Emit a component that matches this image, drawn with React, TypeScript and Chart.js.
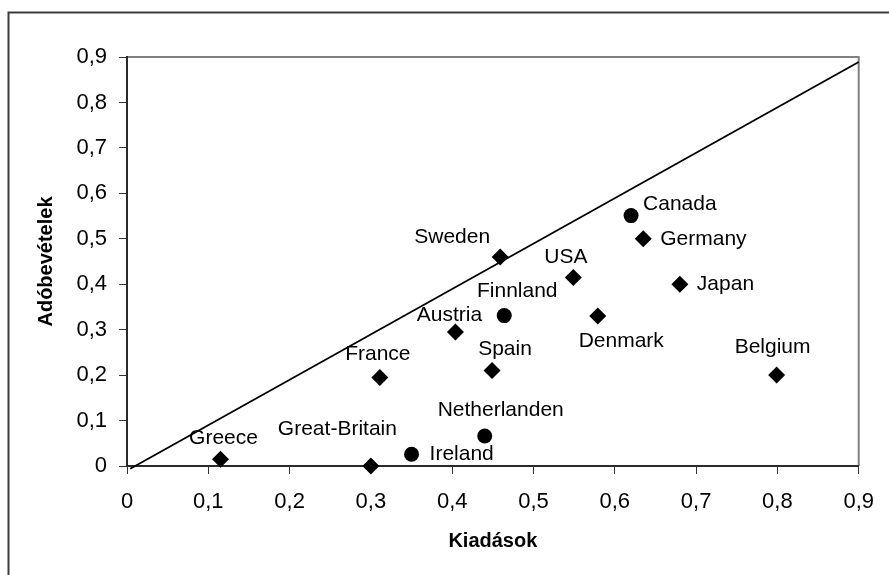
import React, { useEffect, useRef } from 'react';
import { Chart, registerables } from 'chart.js';

Chart.register(...registerables);

// ---- data ----
const diamondCountries = ['Greece', 'Great-Britain', 'France', 'Spain', 'Austria', 'Sweden', 'USA', 'Denmark', 'Germany', 'Japan', 'Belgium'];
const diamondX = [0.115, 0.3, 0.311, 0.449, 0.404, 0.459, 0.549, 0.579, 0.635, 0.68, 0.799];
const diamondY = [0.015, 0.0, 0.195, 0.21, 0.295, 0.46, 0.415, 0.33, 0.5, 0.4, 0.2];

const circleCountries = ['Ireland', 'Netherlanden', 'Finnland', 'Canada'];
const circleX = [0.35, 0.44, 0.464, 0.62];
const circleY = [0.026, 0.066, 0.331, 0.551];

const lineX = [0.004, 0.9];
const lineY = [-0.006, 0.889];

const xTickLabels = ['0', '0,1', '0,2', '0,3', '0,4', '0,5', '0,6', '0,7', '0,8', '0,9'];
const yTickLabels = ['0', '0,1', '0,2', '0,3', '0,4', '0,5', '0,6', '0,7', '0,8', '0,9'];

const xTitle = 'Kiadások';
const yTitle = 'Adóbevételek';

// ---- label placement (style only) ----
type Place = { dx: number; dy: number; align: CanvasTextAlign };
const labelPlacement: Record<string, Place> = {
  'Greece': { dx: 3, dy: -21, align: 'center' },
  'Great-Britain': { dx: 26, dy: -37, align: 'right' },
  'Ireland': { dx: 18, dy: 0, align: 'left' },
  'Netherlanden': { dx: 16, dy: -25.5, align: 'center' },
  'France': { dx: -2, dy: -23.5, align: 'center' },
  'Spain': { dx: 13, dy: -21, align: 'center' },
  'Austria': { dx: -6, dy: -17, align: 'center' },
  'Finnland': { dx: 13, dy: -24, align: 'center' },
  'Sweden': { dx: -48, dy: -20, align: 'center' },
  'USA': { dx: -7.5, dy: -20, align: 'center' },
  'Canada': { dx: 12, dy: -11, align: 'left' },
  'Germany': { dx: 17, dy: 0.5, align: 'left' },
  'Japan': { dx: 17, dy: 0, align: 'left' },
  'Denmark': { dx: 23.5, dy: 25, align: 'center' },
  'Belgium': { dx: -4, dy: -28, align: 'center' },
};

const FONT = "'Liberation Sans', Arial, Helvetica, sans-serif";

const framePlugin = {
  id: 'frame',
  beforeDraw(chart: any) {
    const { ctx, chartArea: a, width, height } = chart;
    ctx.save();
    ctx.fillStyle = '#fff';
    ctx.fillRect(0, 0, width, height);
    ctx.strokeStyle = '#3c3c3c';
    ctx.lineWidth = 2;
    ctx.beginPath();
    ctx.moveTo(8.5, height);
    ctx.lineTo(8.5, 12.5);
    ctx.lineTo(width, 12.5);
    ctx.stroke();
    ctx.strokeStyle = '#808080';
    ctx.lineWidth = 2;
    ctx.beginPath();
    ctx.moveTo(a.left, a.top);
    ctx.lineTo(a.right, a.top);
    ctx.lineTo(a.right, a.bottom);
    ctx.stroke();
    ctx.restore();
  },
};

const labelPlugin = {
  id: 'pointLabels',
  afterDatasetsDraw(chart: any) {
    const { ctx } = chart;
    const groups: [number, string[]][] = [[1, diamondCountries], [2, circleCountries]];
    ctx.save();
    ctx.font = `21px ${FONT}`;
    ctx.fillStyle = '#000';
    ctx.textBaseline = 'middle';
    for (const [dsIndex, names] of groups) {
      const meta = chart.getDatasetMeta(dsIndex);
      meta.data.forEach((el: any, i: number) => {
        const name = names[i];
        const p = labelPlacement[name] || { dx: 0, dy: -20, align: 'center' };
        ctx.textAlign = p.align;
        ctx.fillText(name, el.x + p.dx, el.y + p.dy);
      });
    }
    ctx.restore();
  },
};

export default function App() {
  const canvasRef = useRef<HTMLCanvasElement | null>(null);

  useEffect(() => {
    if (!canvasRef.current) return;
    const chart = new Chart(canvasRef.current, {
      type: 'scatter',
      data: {
        datasets: [
          {
            label: 'line',
            data: lineX.map((x, i) => ({ x, y: lineY[i] })),
            showLine: true,
            borderColor: '#000',
            borderWidth: 1.8,
            pointRadius: 0,
            fill: false,
            clip: false,
          } as any,
          {
            label: 'diamonds',
            data: diamondX.map((x, i) => ({ x, y: diamondY[i] })),
            pointStyle: 'rectRot',
            pointRadius: 8.5,
            backgroundColor: '#000',
            borderColor: '#000',
            borderWidth: 0,
            clip: false,
          } as any,
          {
            label: 'circles',
            data: circleX.map((x, i) => ({ x, y: circleY[i] })),
            pointStyle: 'circle',
            pointRadius: 7.5,
            backgroundColor: '#000',
            borderColor: '#000',
            borderWidth: 0,
            clip: false,
          } as any,
        ],
      },
      options: {
        animation: false,
        responsive: false,
        devicePixelRatio: 1,
        layout: { padding: { left: 34, top: 57, right: 28, bottom: 22 } },
        plugins: {
          legend: { display: false },
          tooltip: { enabled: false },
        },
        scales: {
          x: {
            type: 'linear',
            position: 'bottom',
            min: 0,
            max: 0.9,
            ticks: {
              stepSize: 0.1,
              padding: 15,
              color: '#000',
              maxRotation: 0,
              autoSkip: false,
              font: { family: FONT, size: 22 },
              callback: (_v: any, i: number) => xTickLabels[i],
            },
            grid: { display: true, drawOnChartArea: false, drawTicks: true, tickLength: 8, color: '#333', lineWidth: 1 },
            border: { display: true, color: '#2a2a2a', width: 2 },
            title: { display: true, text: xTitle, color: '#000', padding: 0, font: { family: FONT, size: 20, weight: 'bold' } },
            afterFit: (s: any) => { s.height = 87; },
          },
          y: {
            type: 'linear',
            position: 'left',
            min: 0,
            max: 0.9,
            ticks: {
              stepSize: 0.1,
              padding: 12,
              color: '#000',
              autoSkip: false,
              font: { family: FONT, size: 22 },
              callback: (_v: any, i: number) => yTickLabels[i],
            },
            grid: { display: true, drawOnChartArea: false, drawTicks: true, tickLength: 8, color: '#333', lineWidth: 1 },
            border: { display: true, color: '#2a2a2a', width: 2 },
            title: { display: true, text: yTitle, color: '#000', padding: 0, font: { family: FONT, size: 20, weight: 'bold' } },
            afterFit: (s: any) => { s.width = 93; },
          },
        },
      } as any,
      plugins: [framePlugin, labelPlugin],
    });
    return () => chart.destroy();
  }, []);

  return (
    <div style={{ position: 'absolute', left: 0, top: 0, width: 889, height: 575, background: '#fff' }}>
      <canvas ref={canvasRef} width={889} height={575} style={{ width: 889, height: 575, display: 'block' }} />
    </div>
  );
}
